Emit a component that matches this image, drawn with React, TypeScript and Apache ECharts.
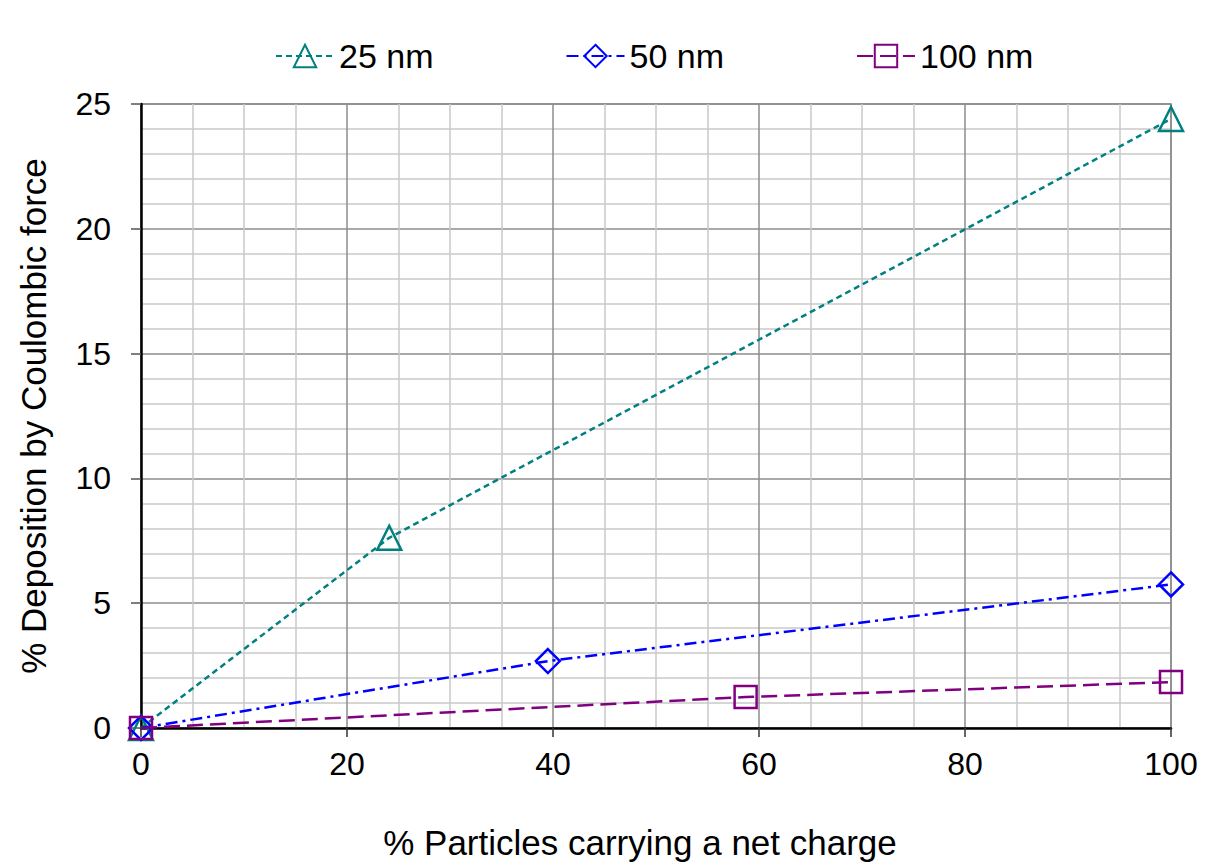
import React, { useEffect, useRef } from "react";
import * as echarts from "echarts";

const seriesNames = ["25 nm", "50 nm", "100 nm"];
const data25: [number, number][] = [[0, 0], [24.1, 7.62], [100, 24.4]];
const data50: [number, number][] = [[0, 0], [39.5, 2.68], [100, 5.75]];
const data100: [number, number][] = [[0, 0], [58.7, 1.24], [100, 1.84]];
const colors = ["#008080", "#0000FF", "#800080"];
const xTitle = "% Particles carrying a net charge";
const yTitle = "% Deposition by Coulombic force";

export default function App() {
  const ref = useRef<HTMLDivElement>(null);
  useEffect(() => {
    document.body.style.margin = "0";
    const chart = echarts.init(ref.current!, null, { renderer: "svg" });
    const font = "Liberation Sans, Arial, sans-serif";
    const mk = (i: number, data: [number, number][], symbol: string, size: number, dash: number[]) => ({
      name: seriesNames[i],
      type: "line",
      data,
      symbol,
      symbolSize: size,
      showAllSymbol: true,
      lineStyle: { color: colors[i], width: 2.5, type: dash },
      itemStyle: { color: "rgba(255,255,255,0)", borderColor: colors[i], borderWidth: 2.5 },
      z: 3 + i,
    });
    chart.setOption({
      animation: false,
      backgroundColor: "#fff",
      textStyle: { fontFamily: font },
      legend: {
        top: 34,
        left: 270,
        itemWidth: 58,
        itemHeight: 28,
        itemGap: 132,
        textStyle: { fontSize: 34, color: "#000", fontFamily: font },
        data: seriesNames,
      },
      grid: {
        left: 141,
        right: 36,
        top: 104,
        bottom: 139,
        show: true,
        borderColor: "#888",
        borderWidth: 1.5,
      },
      xAxis: {
        type: "value",
        min: 0,
        max: 100,
        interval: 20,
        name: xTitle,
        nameLocation: "middle",
        nameGap: 97,
        nameTextStyle: { fontSize: 35, color: "#000", fontFamily: font, padding: [0, 32, 0, 0] },
        axisLine: { show: true, onZero: false, lineStyle: { color: "#000", width: 2.5 } },
        axisTick: { show: true, length: 9, lineStyle: { color: "#333", width: 1.5 } },
        axisLabel: { fontSize: 32, color: "#000", margin: 20, fontFamily: font },
        splitLine: { show: true, lineStyle: { color: "#8c8c8c", width: 1.5 } },
        minorTick: { show: false, splitNumber: 4 },
        minorSplitLine: { show: true, lineStyle: { color: "#c8c8c8", width: 1.5 } },
      },
      yAxis: {
        type: "value",
        min: 0,
        max: 25,
        interval: 5,
        name: yTitle,
        nameLocation: "middle",
        nameGap: 90,
        nameTextStyle: { fontSize: 35, color: "#000", fontFamily: font },
        axisLine: { show: true, onZero: false, lineStyle: { color: "#000", width: 2.5 } },
        axisTick: { show: true, length: 10, lineStyle: { color: "#555", width: 1.5 } },
        axisLabel: { fontSize: 32, color: "#000", margin: 30, fontFamily: font },
        splitLine: { show: true, lineStyle: { color: "#8c8c8c", width: 1.5 } },
        minorTick: { show: false, splitNumber: 5 },
        minorSplitLine: { show: true, lineStyle: { color: "#c8c8c8", width: 1.5 } },
      },
      series: [
        mk(0, data25, "triangle", 24, [6, 4]),
        mk(1, data50, "diamond", 24, [12, 5, 3, 5]),
        mk(2, data100, "rect", 22, [16, 7]),
      ],
    });
    return () => chart.dispose();
  }, []);
  return <div ref={ref} style={{ width: 1207, height: 867 }} />;
}
